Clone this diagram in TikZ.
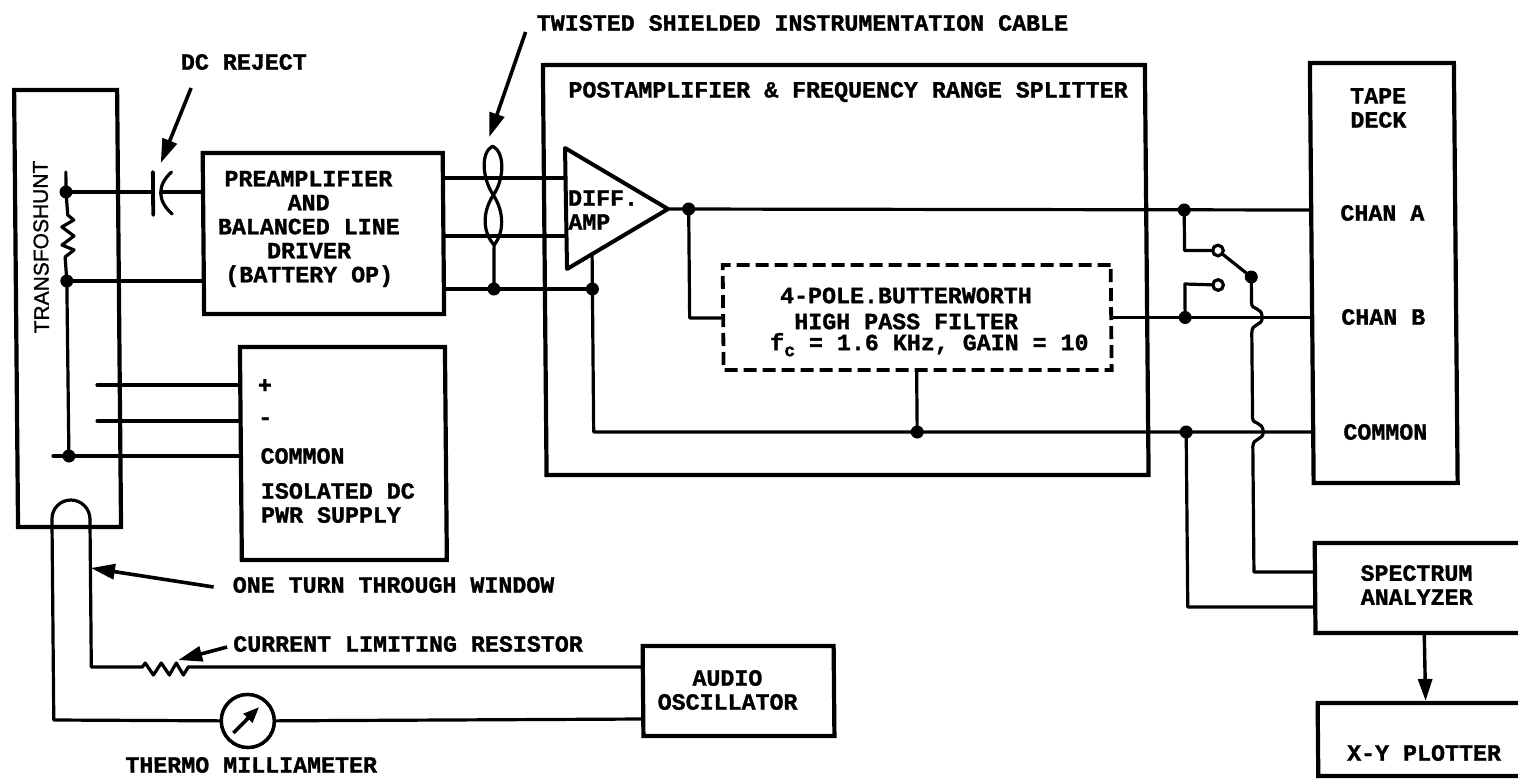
\documentclass[tikz,border=0pt]{standalone}
\usepackage{fontspec}
\setmainfont{Liberation Mono}[BoldFont={Liberation Mono Bold},BoldFeatures={FakeBold=1.2}]
\newfontfamily\vertfont[FakeBold=1.2]{Liberation Sans}
\usetikzlibrary{arrows.meta}
\tikzset{
  wire/.style={line width=3.2pt,line join=round,line cap=round},
  boxnode/.style={draw,line width=4.2pt,rectangle,transform shape,inner sep=0pt},
  lbl/.style={font=\fontsize{23.3}{24}\selectfont\bfseries,transform shape,inner sep=0pt,align=center},
  jdot/.style={fill,circle,inner sep=0pt,minimum size=13pt,transform shape},
  contact/.style={draw,line width=3pt,fill=white,circle,inner sep=0pt,minimum size=10.5pt,transform shape},
  pointer/.style={line width=3.6pt,-{Triangle[length=24pt,width=15pt]}},
  dashbox/.style={draw,line width=3.8pt,rectangle,dash pattern=on 13pt off 6pt,transform shape,inner sep=0pt},
  meterring/.style={draw,line width=3.4pt,circle,inner sep=0pt,minimum size=53pt,fill=white,transform shape}
}
\begin{document}
\begin{tikzpicture}[x=1pt,y=-1pt]
\useasboundingbox (0,0) rectangle (1518,779);
\begin{scope}[xslant=-0.009,xshift=-2.7pt]
% boxes
\node[boxnode,minimum width=103pt,minimum height=437pt] (shunt) at (67.5,308.5) {};
\node[boxnode,minimum width=240pt,minimum height=161pt] (preamp) at (324,233.5) {};
\node[boxnode,minimum width=205pt,minimum height=213pt] (psu) at (342,453.5) {};
\node[boxnode,minimum width=602pt,minimum height=410pt] (post) at (846,270) {};
\node[boxnode,minimum width=144pt,minimum height=420pt] (tape) at (1384,273) {};
\node[boxnode,minimum width=217.5pt,minimum height=90pt] (spec) at (1421.25,588) {};
\node[boxnode,minimum width=216pt,minimum height=73pt] (plot) at (1422,739.5) {};
\node[boxnode,minimum width=191pt,minimum height=90pt] (audio) at (735,691) {};
\node[dashbox,minimum width=388pt,minimum height=105pt] (hpf) at (917,317.5) {};
% amplifier
\coordinate (ampA) at (566.4,148);
\coordinate (ampB) at (668.8,209);
\coordinate (ampC) at (567.3,269);
\draw[line width=4pt,line join=round] (ampA) -- (ampB) -- (ampC) -- cycle;
% junctions
\coordinate (j1) at (67,192);
\coordinate (j2) at (67,281);
\coordinate (j3) at (67.5,456);
\coordinate (jt) at (494,289);
\coordinate (ja) at (592.5,289);
\coordinate (jo) at (689.5,209);
\coordinate (jc) at (916,432);
\coordinate (ra) at (1185,210);
\coordinate (rb) at (1185,317.5);
\coordinate (rc) at (1185,432);
\coordinate (sw) at (1251.5,277);
\node[contact] (c1) at (1218.4,250.5) {};
\node[contact] (c2) at (1218.2,285) {};
% shunt resistor
\draw[wire] (67,172) -- (j1) -- (68.5,215) -- (74.5,220) -- (62.5,227) -- (74.5,236) -- (62.5,245) -- (74.5,250) -- (65.5,257) -- (j2) -- (j3);
% capacitor
\coordinate (capa) at (154,192);
\coordinate (capb) at (162,192);
\draw[line width=3.8pt,line cap=round] (154,172) -- (154,215);
\draw[wire] (172.7,172) .. controls (158,185) and (158,201) .. (173,214);
\draw[wire] (j1) -- (capa);
\draw[wire] (capb) -- (capb -| preamp.west);
\draw[wire] (j2) -- (j2 -| preamp.west);
% preamp outputs and twist
\coordinate (in1) at (566.7,178);
\coordinate (in2) at (566.9,236);
\draw[wire] (in1 -| preamp.east) -- (in1);
\draw[wire] (in2 -| preamp.east) -- (in2);
\draw[wire] (ja -| preamp.east) -- (ja);
\coordinate (tw1) at (494,146);
\coordinate (tw2) at (494.3,195);
\coordinate (tw3) at (494.6,245);
\draw[wire] (tw1) .. controls (481,153) and (484,180) .. (tw2) .. controls (505,212) and (505,232) .. (tw3)
            .. controls (483,232) and (483,212) .. (tw2) .. controls (505,180) and (507,153) .. (tw1);
\draw[wire] (tw3) -- (jt);
% amp common and output
\coordinate (ampbot) at (592.5,254);
\coordinate (cmn) at (592.5,432);
\coordinate (tapeA) at (1312,210);
\coordinate (tapeB) at (1312,317.5);
\coordinate (tapeC) at (1312,432);
\draw[wire] (ampbot) -- (ja) -- (cmn) -- (tapeC);
\draw[wire] (jc) -- (jc |- hpf.south);
\coordinate (hpfl) at (689.5,318);
\draw[wire] (ampB) -- (tapeA);
\draw[wire] (jo) -- (hpfl) -- (hpfl -| hpf.west);
\draw[wire] (hpf.east) -- (tapeB);
% switch
\draw[wire] (ra) -- (1185,250.5) -- (c1);
\draw[wire] (rb) -- (1185,284) -- (c2);
\draw[wire] (c1) -- (sw);
\coordinate (specA) at (1312.5,572);
\coordinate (specB) at (1312.5,607);
\draw[wire] (sw) -- (1251.5,303)
  .. controls (1251.5,311) and (1262,306) .. (1262,317.5)
  .. controls (1262,327) and (1251.5,322) .. (1251.5,333) -- (1251.5,418)
  .. controls (1251.5,425) and (1262,421) .. (1262,432)
  .. controls (1262,441) and (1251.5,437) .. (1251.5,447) -- (1251.5,572) -- (specA);
\draw[wire] (rc) -- (1185,607) -- (specB);
\draw[line width=3.4pt,-{Triangle[length=22pt,width=14pt]}] (spec.south) -- (plot.north);
% supply wires
\coordinate (sa) at (96.2,385);
\coordinate (sb) at (96,421);
\coordinate (sc) at (51.6,456);
\draw[wire] (sa) -- (sa -| psu.west);
\draw[wire] (sb) -- (sb -| psu.west);
\draw[wire] (sc) -- (sc -| psu.west);
% loop
\coordinate (audtop) at (639.5,667);
\coordinate (audbot) at (639.5,719);
\node[meterring] (meter) at (244,721) {};
\draw[wire] (audtop) -- (185,667) -- (180,675) -- (173,663) -- (166,675) -- (158,663) -- (150,675) -- (142,663) -- (139,667) -- (88,667) -- (88,519)
   arc[start angle=0,end angle=180,radius=19pt] -- (50,720) -- (meter);
\draw[wire] (meter) -- (audbot);
\node[meterring] at (meter) {};
\draw[line width=3.6pt,-{Triangle[length=16pt,width=12pt]}] (229.5,733) -- (255.5,707);
% dots
\foreach \p in {j1,j2,j3,jt,ja,jo,jc,ra,rb,rc,sw} \node[jdot] at (\p) {};
\node[contact] at (c1) {};
\node[contact] at (c2) {};
% pointers
\coordinate (twtail) at (528,32);
\coordinate (twtip) at (490.7,137);
\draw[pointer] (twtail) -- (twtip);
\coordinate (dctail) at (193,88);
\coordinate (dctip) at (162,163);
\draw[pointer] (dctail) -- (dctip);
\coordinate (ottail) at (211,587);
\coordinate (ottip) at (88.5,568);
\draw[pointer] (ottail) -- (ottip);
\coordinate (cltail) at (224,647);
\coordinate (cltip) at (175,660);
\draw[pointer] (cltail) -- (cltip);
% labels
\node[lbl] (ltw) at (805,23) {TWISTED SHIELDED INSTRUMENTATION CABLE};
\node[lbl] (ldc) at (246,62) {DC REJECT};
\node[lbl] (lpost) at (850,92) {POSTAMPLIFIER \& FREQUENCY RANGE SPLITTER};
\node[lbl,rotate=90,font=\vertfont\fontsize{21}{24}\selectfont] (lshunt) at (41.5,247) {TRANSFOSHUNT};
\node[lbl] (lpre) at (309.5,229) {PREAMPLIFIER\\AND\\BALANCED LINE\\DRIVER\\(BATTERY OP)};
\node[lbl,anchor=west] (lp1) at (257,386) {+};
\node[lbl,anchor=west] (lp2) at (257,421) {-};
\node[lbl,anchor=west] (lp3) at (259,456) {COMMON};
\node[lbl,anchor=west,align=left] (lp4) at (259,503) {ISOLATED DC\\PWR SUPPLY};
\node[lbl,align=left] (lamp) at (604,210) {DIFF.\\AMP};
\node[lbl] (lhpf) at (906,322) {4-POLE.BUTTERWORTH\\[2pt]HIGH PASS FILTER\\[-3pt]\hspace*{46pt}f\raisebox{-6pt}{\fontsize{18}{18}\selectfont c} = 1.6 KHz, GAIN = 10};
\node[lbl] (ltape) at (1380,108) {TAPE\\DECK};
\node[lbl,anchor=west] (lca) at (1341,213) {CHAN A};
\node[lbl,anchor=west] (lcb) at (1341,317) {CHAN B};
\node[lbl,anchor=west] (lcc) at (1342,432) {COMMON};
\node[lbl] (lspec) at (1414,585) {SPECTRUM\\ANALYZER};
\node[lbl] (lplot) at (1420,753) {X-Y PLOTTER};
\node[lbl] (laud) at (724,690) {AUDIO\\OSCILLATOR};
\node[lbl,anchor=west] (lone) at (230,585) {ONE TURN THROUGH WINDOW};
\node[lbl,anchor=west] (lcur) at (230,644) {CURRENT LIMITING RESISTOR};
\node[lbl,anchor=west] (lthm) at (121,765) {THERMO MILLIAMETER};
\end{scope}
\end{tikzpicture}
\end{document}
